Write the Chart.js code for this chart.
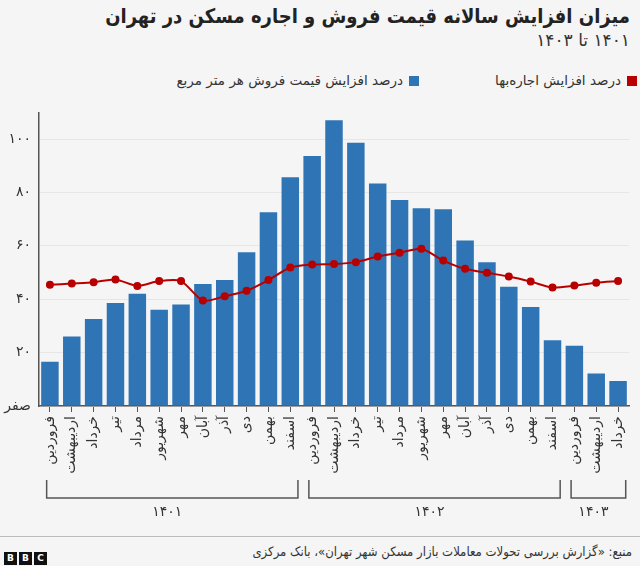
<!DOCTYPE html>
<html lang="fa">
<head>
<meta charset="utf-8">
<script src="https://cdn.jsdelivr.net/npm/chart.js@4.4.1/dist/chart.umd.min.js"></script>
<style>
body { margin:0; width:640px; height:566px; background:#f5f5f5; font-family:"DejaVu Sans", sans-serif; color:#222; position:relative; overflow:hidden; }
#title { position:absolute; right:10px; top:4px; direction:rtl; font-family:"DejaVu Sans Condensed", "DejaVu Sans", sans-serif; font-size:20px; font-weight:bold; white-space:nowrap; }
#subtitle { position:absolute; right:10px; top:30px; direction:rtl; font-size:17px; color:#333; }
#legend { position:absolute; right:3px; top:72px; direction:rtl; font-size:13.5px; color:#333; white-space:nowrap; }
.item { display:inline-block; margin-left:76px; }
.key { display:inline-block; width:10px; height:10px; margin-left:6px; vertical-align:middle; }
#chartBox { position:absolute; left:0; top:96px; }
#rule { position:absolute; left:0; right:0; top:536px; border-top:1px solid #bbb; }
#bbc { position:absolute; left:4px; top:546px; }
#bbc span { display:inline-block; width:13px; height:13px; margin-right:2px; background:#111; color:#fff; font:bold 9px "DejaVu Sans"; text-align:center; line-height:13px; }
#source { position:absolute; right:8px; top:544px; direction:rtl; font-family:"DejaVu Sans Condensed", "DejaVu Sans", sans-serif; font-size:13px; color:#333; white-space:nowrap; }
</style>
</head>
<body>
<div id="title">میزان افزایش سالانه قیمت فروش و اجاره مسکن در تهران</div>
<div id="subtitle">۱۴۰۱ تا ۱۴۰۳</div>
<div id="legend">
  <span class="item"><span class="key" style="background:#b80000"></span>درصد افزایش اجاره‌بها</span><span class="item"><span class="key" style="background:#2f74b5"></span>درصد افزایش قیمت فروش هر متر مربع</span>
</div>
<div id="chartBox"><canvas id="chart" width="640" height="434"></canvas></div>
<div id="rule"></div>
<div id="bbc"><span>B</span><span>B</span><span>C</span></div>
<div id="source">منبع: «گزارش بررسی تحولات معاملات بازار مسکن شهر تهران»، بانک مرکزی</div>
<script>
// data
var months = ['فروردین', 'اردیبهشت', 'خرداد', 'تیر', 'مرداد', 'شهریور', 'مهر', 'آبان', 'آذر', 'دی', 'بهمن', 'اسفند'];
var monthLabels = months.concat(months, months.slice(0, 3));
var years = ['۱۴۰۱', '۱۴۰۲', '۱۴۰۳'];
var yearMonthCounts = [12, 12, 3];
var priceGrowth = [16.6, 26.0, 32.6, 38.6, 42.1, 36.1, 38.0, 45.7, 47.2, 57.6, 72.6, 85.7, 93.7, 107.1, 98.6, 83.4, 77.2, 74.1, 73.7, 62.0, 53.9, 44.7, 37.1, 24.6, 22.6, 12.2, 9.4];
var rentGrowth = [45.4, 45.9, 46.4, 47.4, 45.0, 46.8, 46.8, 39.5, 41.1, 43.2, 47.2, 51.9, 53.0, 53.2, 53.9, 56.0, 57.4, 58.9, 54.5, 51.4, 49.9, 48.5, 46.6, 44.4, 45.1, 46.2, 46.8];
var yTickValues = [0, 20, 40, 60, 80, 100];
var yTickLabels = ['صفر', '۲۰', '۴۰', '۶۰', '۸۰', '۱۰۰'];

//Draws the year brackets under the month labels
var yearBrackets = {
    id: 'yearBrackets',
    afterDraw: function (chart) {
        var ctx = chart.ctx;
        var x = chart.scales.x;
        var bottom = chart.chartArea.bottom;
        var step = x.getPixelForValue(1) - x.getPixelForValue(0);
        var start = 0;
        ctx.save();
        ctx.strokeStyle = '#555';
        ctx.lineWidth = 1.5;
        ctx.fillStyle = '#333';
        ctx.font = '14px "DejaVu Sans"';
        ctx.textAlign = 'center';
        ctx.textBaseline = 'middle';
        for (var i = 0; i < years.length; i++) {
            var end = start + yearMonthCounts[i] - 1;
            var left = x.getPixelForValue(start) - step * 0.15;
            var right = x.getPixelForValue(end) + step * 0.35;
            ctx.beginPath();
            ctx.moveTo(left, bottom + 74);
            ctx.lineTo(left, bottom + 92);
            ctx.lineTo(right, bottom + 92);
            ctx.lineTo(right, bottom + 74);
            ctx.stroke();
            ctx.fillText(years[i], (left + right) / 2 - 5, bottom + 106);
            start = end + 1;
        }
        ctx.restore();
    }
};

new Chart(document.getElementById('chart'), {
    data: {
        labels: monthLabels,
        datasets: [{
            type: 'line',
            label: 'درصد افزایش اجاره‌بها',
            data: rentGrowth,
            borderColor: '#b80000',
            backgroundColor: '#b80000',
            borderWidth: 2,
            pointRadius: 3,
            tension: 0.25,
            order: 0
        }, {
            type: 'bar',
            label: 'درصد افزایش قیمت فروش هر متر مربع',
            data: priceGrowth,
            backgroundColor: '#2f74b5',
            categoryPercentage: 1,
            barPercentage: 0.8,
            order: 1
        }]
    },
    options: {
        responsive: false,
        animation: false,
        devicePixelRatio: 1,
        layout: { padding: { top: 11, right: 11, left: 0, bottom: 0 } },
        plugins: { legend: { display: false }, tooltip: { enabled: false } },
        scales: {
            x: {
                grid: { offset: false, drawOnChartArea: false, color: '#555', tickLength: 6 },
                border: { color: '#555', width: 1.5 },
                ticks: { minRotation: 90, maxRotation: 90, autoSkip: false, padding: 4, color: '#333', font: { family: 'DejaVu Sans', size: 14 } },
                afterFit: function (scale) { scale.height = 124; }
            },
            y: {
                min: 0,
                max: 110,
                grid: { color: '#e6e6e6', drawTicks: false },
                border: { color: '#555', width: 1.5 },
                ticks: {
                    stepSize: 20,
                    includeBounds: false,
                    padding: 8,
                    color: '#333',
                    font: { family: 'DejaVu Sans', size: 14 },
                    callback: function (v) { return yTickLabels[yTickValues.indexOf(v)]; }
                },
                afterFit: function (scale) { scale.width = 39; }
            }
        }
    },
    plugins: [yearBrackets]
});
</script>
</body>
</html>
